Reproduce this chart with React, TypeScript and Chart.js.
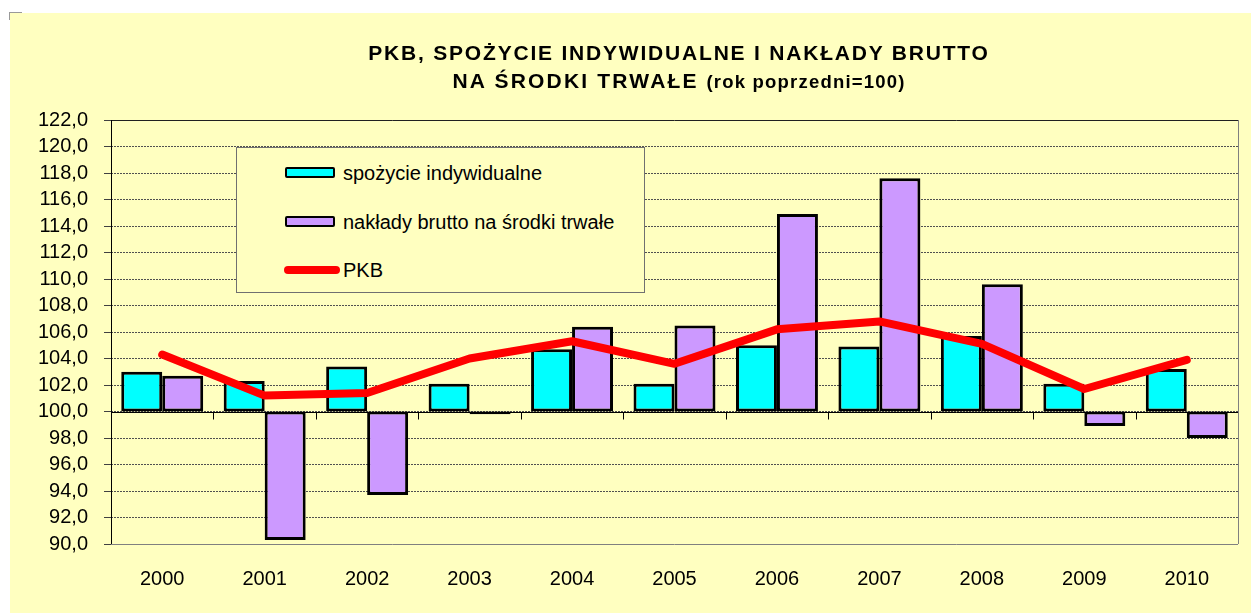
import React, { useEffect, useRef } from "react";
import { Chart, registerables } from "chart.js";

Chart.register(...registerables);

const years = ["2000", "2001", "2002", "2003", "2004", "2005", "2006", "2007", "2008", "2009", "2010"];
const spozycie = [103.0, 102.3, 103.4, 102.1, 104.7, 102.1, 105.0, 104.9, 105.7, 102.1, 103.2];
const naklady = [102.7, 90.3, 93.7, 99.8, 106.4, 106.5, 114.9, 117.6, 109.6, 98.9, 98.0];
const pkb = [104.3, 101.2, 101.4, 104.0, 105.3, 103.6, 106.2, 106.8, 105.1, 101.7, 103.9];
const baseValue = 100;
const yMin = 90;
const yMax = 122;
const yStep = 2;

const FONT = "'Liberation Sans', Arial, sans-serif";
const BG = "#FFFFC0";

const framePlugin = {
  id: "framePlugin",
  beforeDatasetsDraw(chart: any) {
    const { ctx, chartArea } = chart;
    const y = chart.scales.y;
    const { left, right, top, bottom } = chartArea;
    ctx.save();
    ctx.setLineDash([]);
    ctx.lineWidth = 1;
    ctx.strokeStyle = "#808080";
    ctx.beginPath();
    ctx.moveTo(left, bottom + 0.5);
    ctx.lineTo(right, bottom + 0.5);
    ctx.moveTo(right + 0.5, top);
    ctx.lineTo(right + 0.5, bottom);
    ctx.stroke();
    ctx.strokeStyle = "#202020";
    ctx.beginPath();
    ctx.moveTo(left, top + 0.5);
    ctx.lineTo(right, top + 0.5);
    ctx.stroke();
    ctx.strokeStyle = "#000000";
    ctx.beginPath();
    ctx.moveTo(left + 0.5, top);
    ctx.lineTo(left + 0.5, bottom);
    ctx.stroke();
    const yb = Math.round(y.getPixelForValue(baseValue)) + 0.5;
    ctx.beginPath();
    ctx.moveTo(left, yb);
    ctx.lineTo(right, yb);
    const n = years.length;
    const w = (right - left) / n;
    for (let k = 1; k < n; k++) {
      const xx = Math.round(left + k * w) + 0.5;
      ctx.moveTo(xx, yb);
      ctx.lineTo(xx, yb + 7);
    }
    ctx.stroke();
    ctx.restore();
  },
};

function Legend() {
  const row = (top: number, swatch: React.ReactNode, label: string) => (
    <div style={{ position: "absolute", left: 0, top: top - 12, height: 24, width: 409 }}>
      {swatch}
      <span
        style={{
          position: "absolute",
          left: 106,
          top: 0,
          lineHeight: "24px",
          fontSize: 20,
          fontFamily: FONT,
          color: "#000",
          whiteSpace: "nowrap",
        }}
      >
        {label}
      </span>
    </div>
  );
  const box = (color: string) => (
    <div
      style={{
        position: "absolute",
        left: 48,
        top: 6,
        width: 46,
        height: 7,
        background: color,
        border: "2.5px solid #000",
        borderRadius: 2,
      }}
    />
  );
  return (
    <div
      style={{
        position: "absolute",
        left: 236,
        top: 147,
        width: 409,
        height: 146,
        border: "1px solid #707070",
        background: BG,
        boxSizing: "border-box",
      }}
    >
      {row(25, box("#00FFFF"), "spożycie indywidualne")}
      {row(74, box("#CC99FF"), "nakłady brutto na środki trwałe")}
      {row(122, <div style={{ position: "absolute", left: 47, top: 8, width: 56, height: 8, background: "#FF0000", borderRadius: 4 }} />, "PKB")}
    </div>
  );
}

export default function App() {
  const canvasRef = useRef<HTMLCanvasElement | null>(null);

  useEffect(() => {
    if (!canvasRef.current) return;
    const chart = new Chart(canvasRef.current, {
      type: "bar",
      data: {
        labels: years,
        datasets: [
          {
            type: "line",
            label: "PKB",
            data: pkb,
            borderColor: "#FF0000",
            backgroundColor: "#FF0000",
            borderWidth: 8,
            pointRadius: 0,
            tension: 0,
            borderCapStyle: "round",
            borderJoinStyle: "round",
            order: 0,
          } as any,
          {
            type: "bar",
            label: "spożycie indywidualne",
            data: spozycie.map((v) => [baseValue, v]),
            backgroundColor: "#00FFFF",
            borderColor: "#000000",
            borderWidth: 3,
            borderSkipped: false,
            categoryPercentage: 0.8,
            barPercentage: 1.0,
            order: 1,
          } as any,
          {
            type: "bar",
            label: "nakłady brutto na środki trwałe",
            data: naklady.map((v) => [baseValue, v]),
            backgroundColor: "#CC99FF",
            borderColor: "#000000",
            borderWidth: 3,
            borderSkipped: false,
            categoryPercentage: 0.8,
            barPercentage: 1.0,
            order: 1,
          } as any,
        ],
      },
      options: {
        animation: false,
        responsive: false,
        maintainAspectRatio: false,
        layout: { padding: { top: 120, right: 13, left: 0, bottom: 0 } },
        plugins: {
          legend: { display: false },
          title: { display: false },
          tooltip: { enabled: false },
        },
        scales: {
          x: {
            offset: true,
            grid: { display: false, drawTicks: false },
            border: { display: false },
            ticks: {
              color: "#000",
              font: { family: FONT, size: 20 },
              padding: 23,
              maxRotation: 0,
              autoSkip: false,
            },
            afterFit(scale: any) {
              scale.height = 69;
            },
          },
          y: {
            min: yMin,
            max: yMax,
            border: { display: false, dash: [2, 1] },
            grid: {
              color: "#505050",
              lineWidth: 1,
              tickLength: 7,
              tickBorderDash: [],
              tickColor: "#404040",
            } as any,
            ticks: {
              stepSize: yStep,
              autoSkip: false,
              color: "#000",
              font: { family: FONT, size: 20 },
              padding: 16,
              callback: (v: any) => Number(v).toFixed(1).replace(".", ","),
            },
            afterFit(scale: any) {
              scale.width = 111;
            },
          },
        },
      },
      plugins: [framePlugin],
    });
    return () => chart.destroy();
  }, []);

  return (
    <div style={{ position: "fixed", left: 0, top: 0, width: 1251, height: 613, background: "#fff", overflow: "hidden" }}>
      <div style={{ position: "absolute", left: 10, top: 13, width: 1241, height: 600, background: BG }} />
      <div style={{ position: "absolute", left: 9, top: 12, width: 13, height: 1, background: "#999" }} />
      <div style={{ position: "absolute", left: 9, top: 12, width: 1, height: 8, background: "#999" }} />
      <canvas ref={canvasRef} width={1251} height={613} style={{ position: "absolute", left: 0, top: 0, width: 1251, height: 613 }} />
      <div
        style={{
          position: "absolute",
          left: 279,
          top: 39,
          width: 800,
          textAlign: "center",
          fontFamily: FONT,
          fontWeight: "bold",
          fontSize: 21,
          letterSpacing: "1.8px",
          lineHeight: "28px",
          color: "#000",
          whiteSpace: "nowrap",
        }}
      >
        <div>PKB, SPOŻYCIE INDYWIDUALNE I NAKŁADY BRUTTO</div>
        <div>
          <span style={{ letterSpacing: "2.2px" }}>NA ŚRODKI TRWAŁE</span>{" "}
          <span style={{ fontSize: 18.5, letterSpacing: "1.2px" }}>(rok poprzedni=100)</span>
        </div>
      </div>
      <Legend />
    </div>
  );
}
